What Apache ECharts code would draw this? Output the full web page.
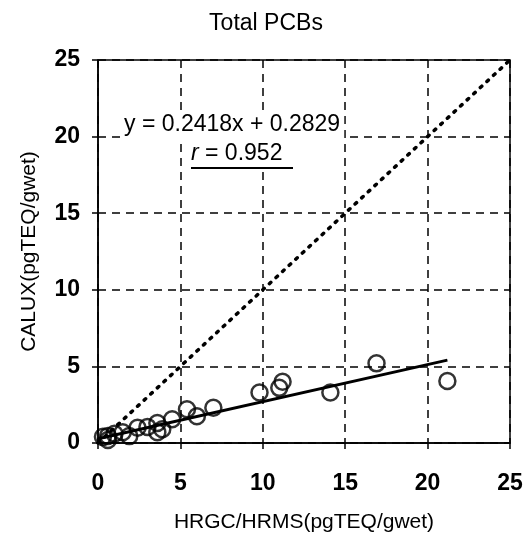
<!DOCTYPE html>
<html>
<head>
<meta charset="utf-8">
<script src="https://cdn.jsdelivr.net/npm/echarts@6/dist/echarts.min.js"></script>
<style>
  html, body { margin: 0; padding: 0; background: #fff; }
  #chart { width: 532px; height: 545px; }
</style>
</head>
<body>
<div id="chart"></div>
<script>
// HRGC/HRMS (x) vs CALUX (y), pgTEQ/gwet
var hrgcValues = [0.3, 0.6, 0.6, 1.0, 1.5, 1.9, 2.4, 3.0, 3.6, 3.6, 3.9, 4.5, 5.4, 6.0, 7.0, 9.8, 11.0, 11.2, 14.1, 16.9, 21.2];
var caluxValues = [0.4, 0.46, 0.2, 0.6, 0.7, 0.45, 1.0, 1.05, 1.3, 0.7, 0.9, 1.55, 2.2, 1.75, 2.3, 3.3, 3.6, 4.0, 3.3, 5.2, 4.05];

// regression y = 0.2418x + 0.2829, fitted over the data range
var slope = 0.2418;
var intercept = 0.2829;
var fitRange = [0, 21.2];
// 1:1 reference line
var identityRange = [0, 25];

var axisTicks = [0, 5, 10, 15, 20, 25];

var chart = echarts.init(document.getElementById('chart'));

var points = hrgcValues.map(function (x, i) { return [x, caluxValues[i]]; });
var fitLine = fitRange.map(function (x) { return [x, slope * x + intercept]; });
var identityLine = identityRange.map(function (x) { return [x, x]; });

var font = 'Liberation Sans, Arial, sans-serif';

function valueAxis(name, nameGap, labelMargin) {
  return {
    type: 'value',
    min: axisTicks[0],
    max: axisTicks[axisTicks.length - 1],
    interval: axisTicks[1] - axisTicks[0],
    name: name,
    nameLocation: 'middle',
    nameGap: nameGap,
    nameTextStyle: { color: '#000', fontSize: 21, fontFamily: font },
    axisLine: { show: true, onZero: false, lineStyle: { color: '#000', width: 1.5 } },
    axisTick: { show: true, inside: false, length: 6, lineStyle: { color: '#000', width: 1.5 } },
    axisLabel: { color: '#000', fontSize: 23, fontWeight: 'bold', fontFamily: font, margin: labelMargin },
    splitLine: { show: true, lineStyle: { color: '#000', width: 1.5, type: [8, 6] } }
  };
}

var option = {
  backgroundColor: '#fff',
  animation: false,
  title: {
    text: 'Total PCBs',
    left: 'center',
    top: 7,
    textStyle: { color: '#000', fontSize: 23, fontWeight: 'normal', fontFamily: font }
  },
  grid: {
    left: 98, right: 22, top: 60, bottom: 102,
    show: true, borderColor: '#000', borderWidth: 1.5, backgroundColor: 'transparent'
  },
  xAxis: valueAxis('HRGC/HRMS(pgTEQ/gwet)', 69, 29),
  yAxis: valueAxis('CALUX(pgTEQ/gwet)', 58, 18),
  series: [
    {
      type: 'line',
      data: identityLine,
      symbol: 'none',
      lineStyle: { color: '#000', width: 3.5, type: [2, 7], cap: 'round' },
      z: 2
    },
    {
      type: 'line',
      data: fitLine,
      symbol: 'none',
      lineStyle: { color: '#000', width: 3 },
      z: 3
    },
    {
      type: 'scatter',
      data: points,
      symbol: 'circle',
      symbolSize: 16,
      itemStyle: { color: 'rgba(255,255,255,0)', borderColor: '#000', borderWidth: 2.5 },
      z: 4
    }
  ],
  graphic: [
    {
      type: 'text',
      left: 120,
      top: 111,
      z: 10,
      style: {
        text: 'y = 0.2418x + 0.2829', fill: '#000', fontSize: 23, fontFamily: font,
        backgroundColor: '#fff', padding: [2, 4, 4, 4]
      }
    },
    {
      type: 'text',
      left: 187,
      top: 140,
      z: 10,
      style: {
        text: '{i|r} = 0.952',
        fill: '#000',
        fontSize: 23,
        fontFamily: font,
        backgroundColor: '#fff',
        padding: [2, 4, 6, 4],
        rich: { i: { fontStyle: 'italic', fontSize: 23, fontFamily: font, fill: '#000' } }
      }
    },
    {
      type: 'line',
      z: 11,
      shape: { x1: 191, y1: 168, x2: 293, y2: 168 },
      style: { stroke: '#000', lineWidth: 2 }
    }
  ]
};

chart.setOption(option);
</script>
</body>
</html>
